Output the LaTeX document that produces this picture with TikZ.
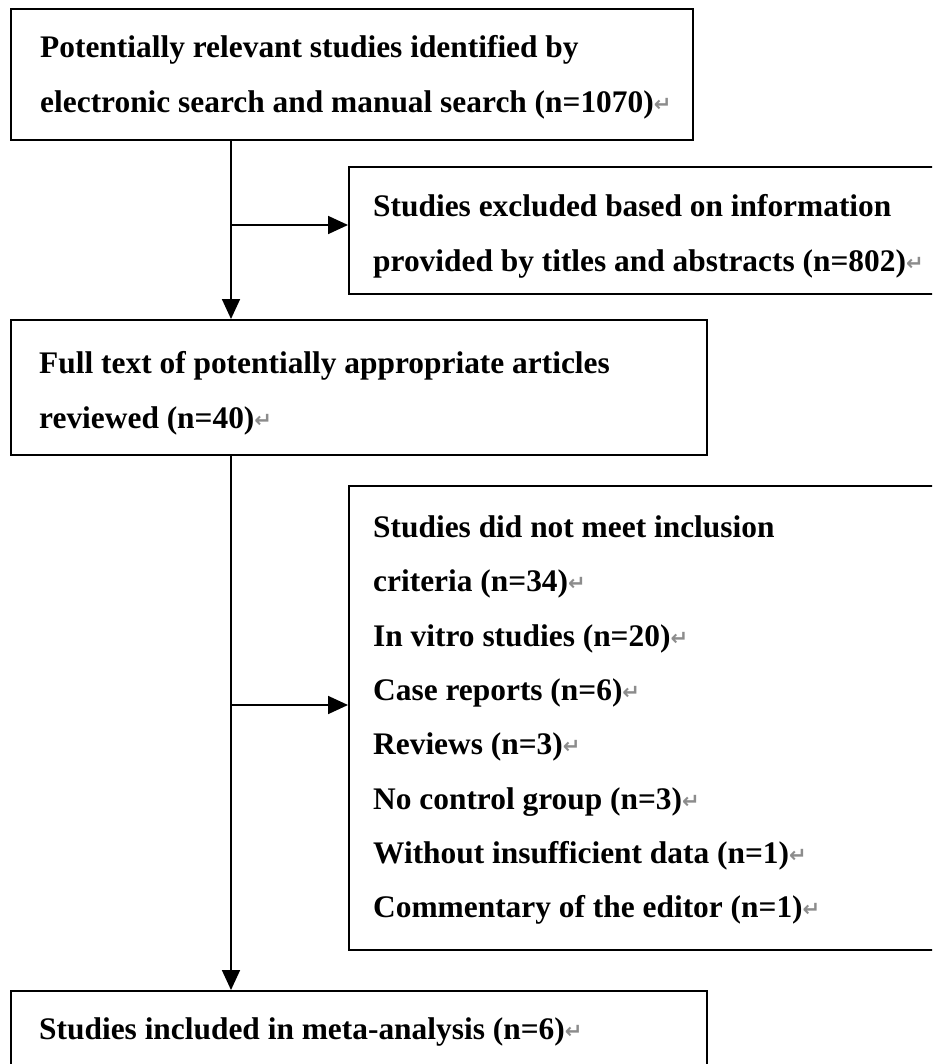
\documentclass[tikz,border=0pt]{standalone}
\usepackage{fontspec}
\setmainfont{Liberation Serif}
\newfontfamily\dvs{DejaVu Sans}
\usetikzlibrary{arrows.meta,calc}
\newcommand\retmark{{\dvs\fontsize{21}{21}\selectfont\color{black!45}\raisebox{1pt}{↵}}}
\begin{document}
\begin{tikzpicture}[x=1pt,y=-1pt,
 box/.style={draw=black, line width=1.8pt, anchor=north west, inner sep=0pt},
 txt/.style={anchor=base west, inner sep=0pt, font=\bfseries\fontsize{31.4}{31.4}\selectfont},
 arr/.style={line width=1.8pt, -{Triangle[length=20pt,width=18pt]}}]
\useasboundingbox (0,0) rectangle (932,1064);
\clip (0,0) rectangle (932,1064);
\fill[white] (0,0) rectangle (932,1064);
% boxes
\node[box, minimum width=682pt, minimum height=131pt] (b1) at (10,8) {};
\node[box, minimum width=620pt, minimum height=127pt] (b2) at (348,166) {};
\node[box, minimum width=696pt, minimum height=135pt] (b3) at (10,319) {};
\node[box, minimum width=620pt, minimum height=464pt] (b5) at (348,485) {};
\node[box, minimum width=696pt, minimum height=120pt] (b4) at (10,990) {};
% texts
\node[txt] (t1a) at (40,58) {Potentially relevant studies identified by};
\node[txt] (t1b) at (40,113) {electronic search and manual search (n=1070)\retmark};
\node[txt] (t2a) at (373,217) {Studies excluded based on information};
\node[txt] (t2b) at (373,272) {provided by titles and abstracts (n=802)\retmark};
\node[txt] (t3a) at (39,373) {Full text of potentially appropriate articles};
\node[txt] (t3b) at (39,428) {reviewed (n=40)\retmark};
\node[txt] (t5a) at (373,537.5) {Studies did not meet inclusion};
\node[txt] (t5b) at (373,591.8) {criteria (n=34)\retmark};
\node[txt] (t5c) at (373,646.1) {In vitro studies (n=20)\retmark};
\node[txt] (t5d) at (373,700.4) {Case reports (n=6)\retmark};
\node[txt] (t5e) at (373,754.7) {Reviews (n=3)\retmark};
\node[txt] (t5f) at (373,809.0) {No control group (n=3)\retmark};
\node[txt] (t5g) at (373,863.3) {Without insufficient data (n=1)\retmark};
\node[txt] (t5h) at (373,917.6) {Commentary of the editor (n=1)\retmark};
\node[txt] (t4a) at (39,1039) {Studies included in meta-analysis (n=6)\retmark};
% connectors
\coordinate (j1) at (231,225);
\coordinate (j2) at (231,705);
\draw[arr] (b1.south -| j1) -- (b3.north -| j1);
\draw[arr] (j1) -- (j1 -| b2.west);
\draw[arr] (b3.south -| j2) -- (b4.north -| j2);
\draw[arr] (j2) -- (j2 -| b5.west);
\end{tikzpicture}
\end{document}
